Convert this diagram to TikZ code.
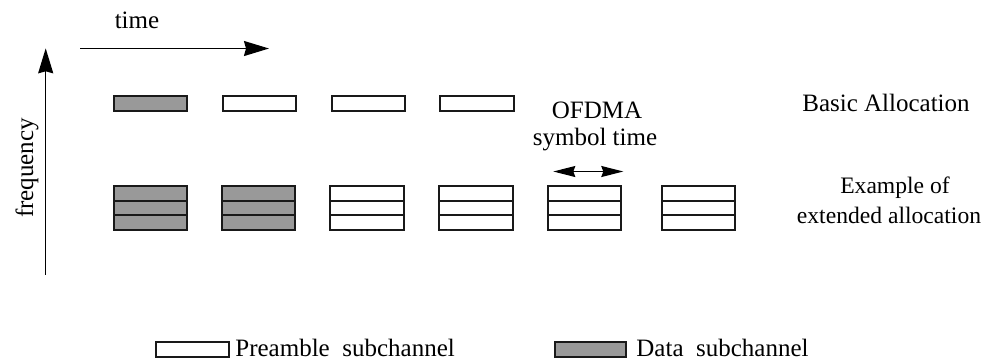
\documentclass[tikz,border=0pt]{standalone}
\usepackage{fontspec}
\setmainfont{Liberation Serif}
\usetikzlibrary{arrows.meta,calc}
\begin{document}
\begin{tikzpicture}[x=0.5pt,y=-0.5pt,
  cell/.style={draw=black!90,line width=1pt,minimum width=36.6pt,minimum height=7.35pt,inner sep=0pt,outer sep=0pt},
  topcell/.style={cell,minimum height=7.65pt},
  colcell/.style={cell,minimum height=22.05pt},
  pre/.style={fill=white},
  dat/.style={fill=black!40},
  divider/.style={draw=black!90,line width=1pt},
  lbl/.style={font=\fontsize{12.5}{15}\selectfont,inner sep=0pt,anchor=base},
  sml/.style={font=\fontsize{11.8}{14}\selectfont,inner sep=0pt,anchor=base},
  axis/.style={line width=0.75pt,-{Stealth[length=12.5pt,width=7.5pt,inset=1pt]}},
  span/.style={line width=0.65pt,{Stealth[length=11pt,width=5.5pt,inset=1pt]}-{Stealth[length=11pt,width=5.5pt,inset=1pt]}},
]
\useasboundingbox (0,0) rectangle (987,361);
% axes
\coordinate (tstart) at (80,48.5);
\coordinate (tend) at (269,48.5);
\coordinate (fstart) at (45.7,274.5);
\coordinate (fend) at (45.7,48.3);
\draw[axis] (tstart) -- (tend);
\draw[axis] (fstart) -- (fend);
\node[lbl] (timelbl) at (137,28.3) {time};
\node[lbl,rotate=90] (freqlbl) at (33,168) {frequency};
% basic allocation row
\node[topcell,dat] (b1) at (150.2,103.4) {};
\node[topcell,pre] (b2) at (259.8,103.4) {};
\node[topcell,pre] (b3) at (368.5,103.4) {};
\node[topcell,pre] (b4) at (477,103.4) {};
% extended allocation
\foreach \x/\s [count=\i] in {150.2/dat,258.4/dat,367/pre,476/pre,584.7/pre,698.2/pre}{
  \node[colcell,\s] (e\i) at (\x,208) {};
  \draw[divider] ($(e\i.north west)!1/3!(e\i.south west)$) -- ($(e\i.north east)!1/3!(e\i.south east)$);
  \draw[divider] ($(e\i.north west)!2/3!(e\i.south west)$) -- ($(e\i.north east)!2/3!(e\i.south east)$);
}
% symbol time
\coordinate (sL) at (553.3,171.5);
\coordinate (sR) at (623.3,171.5);
\draw[span] (sL) -- (sR);
\node[lbl] (ofdma) at (597,118) {OFDMA};
\node[lbl] (symt) at (595,145) {symbol time};
% right labels
\node[lbl] (basic) at (886,111.7) {Basic Allocation};
\node[sml] (ex1) at (895,193) {Example of};
\node[sml] (ex2) at (889,223) {extended allocation};
% legend
\node[cell,pre,minimum width=36.5pt] (lp) at (192.5,349.3) {};
\node[lbl,anchor=base west] (lpt) at (235,356) {Preamble\ \ subchannel};
\node[cell,dat,minimum width=35.5pt] (ld) at (590.5,349.3) {};
\node[lbl,anchor=base west] (ldt) at (636,356) {Data\ \ subchannel};
\end{tikzpicture}
\end{document}
